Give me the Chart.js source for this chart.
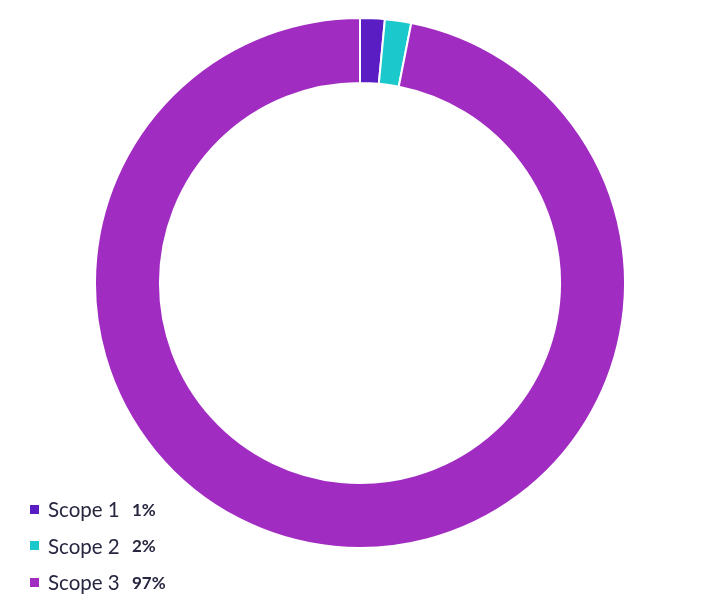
<!DOCTYPE html>
<html>
<head>
<meta charset="utf-8">
<script src="https://cdn.jsdelivr.net/npm/chart.js@4/dist/chart.umd.min.js"></script>
<style>
  html, body { margin: 0; padding: 0; background: #ffffff; }
  body { width: 722px; height: 614px; position: relative; overflow: hidden; }
  #wrap { position: absolute; left: 0; top: 17px; width: 720px; height: 532px; }
  #legend { position: absolute; left: 30px; top: 491px; font-family: Lato, "Open Sans", sans-serif; color: #262640; }
  .row { display: flex; align-items: center; height: 36.5px; font-size: 20.5px; }
  .sw { width: 9px; height: 9px; margin-right: 9px; }
  .lbl { width: 84px; }
  .pct { font-weight: bold; font-size: 17px; }
</style>
</head>
<body>
<div id="wrap"><canvas id="c"></canvas></div>
<div id="legend"></div>
<script>
const categories = ["Scope 1", "Scope 2", "Scope 3"];
const values = [1.5, 1.6, 96.9];
const pctLabels = ["1%", "2%", "97%"];
const colors = ["#5A1DC3", "#1BC9CC", "#A12CC1"];

new Chart(document.getElementById('c'), {
  type: 'doughnut',
  data: {
    labels: categories,
    datasets: [{
      data: values,
      backgroundColor: colors,
      borderColor: '#ffffff',
      borderWidth: 2
    }]
  },
  options: {
    responsive: true,
    maintainAspectRatio: false,
    animation: false,
    cutout: '75.5%',
    layout: { padding: 0 },
    plugins: { legend: { display: false }, tooltip: { enabled: false } }
  }
});

const legend = document.getElementById('legend');
categories.forEach((c, i) => {
  const row = document.createElement('div');
  row.className = 'row';
  row.innerHTML = '<span class="sw" style="background:' + colors[i] + '"></span>' +
    '<span class="lbl">' + c + '</span><span class="pct">' + pctLabels[i] + '</span>';
  legend.appendChild(row);
});
</script>
</body>
</html>
